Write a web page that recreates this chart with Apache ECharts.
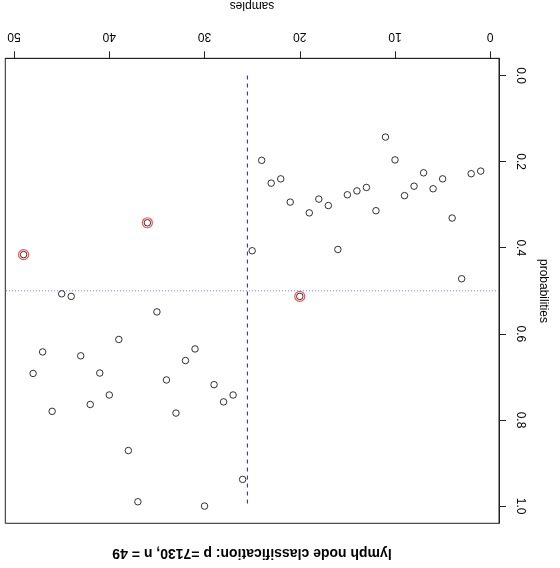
<!DOCTYPE html>
<html>
<head>
<meta charset="utf-8">
<script src="https://cdn.jsdelivr.net/npm/echarts@6/dist/echarts.min.js"></script>
<style>
html,body{margin:0;padding:0;background:#fff;}
#chart{width:560px;height:568px;}
</style>
</head>
<body>
<div id="chart"></div>
<script>
// ---- data ----
const samples = [1,2,3,4,5,6,7,8,9,10,11,12,13,14,15,16,17,18,19,20,21,22,23,24,25,26,27,28,29,30,31,32,33,34,35,36,37,38,39,40,41,42,43,44,45,46,47,48,49];
const probabilities = [0.222,0.228,0.472,0.331,0.240,0.263,0.226,0.257,0.279,0.196,
  0.143,0.314,0.260,0.268,0.277,0.404,0.302,0.287,0.319,0.513,
  0.294,0.240,0.250,0.197,0.407,0.938,0.742,0.758,0.718,1.000,
  0.635,0.662,0.784,0.707,0.549,0.342,0.990,0.871,0.613,0.742,
  0.691,0.764,0.651,0.513,0.507,0.780,0.642,0.692,0.416];
const misclassified = [20,36,49];
const cutoff = 0.5;
const classSplit = 25.5;
const xRange = [-0.92, 50.92];
const yRange = [-0.04, 1.04];
const xTicks = [0,10,20,30,40,50];
const yTicks = [0,0.2,0.4,0.6,0.8,1.0];
const titleText = 'lymph node classification: p =7130, n = 49';
const xName = 'samples';
const yName = 'probabilities';

const pts = samples.map((s,i)=>[s, probabilities[i]]);
const redPts = misclassified.map(s=>[s, probabilities[s-1]]);
const cutoffLine = [[xRange[0], cutoff], [xRange[1], cutoff]];
const splitLine = [[classSplit, 0], [classSplit, 1]];

const font = 'Liberation Sans, Arial, Helvetica, sans-serif';
const chart = echarts.init(document.getElementById('chart'), null, {renderer:'canvas'});
chart.setOption({
  backgroundColor:'#ffffff',
  animation:false,
  grid:{left:5.3, right:61, top:58.3, bottom:44.7, show:true, borderColor:'#222', borderWidth:1, backgroundColor:'transparent'},
  xAxis:{
    type:'value', position:'top', inverse:true, min:xRange[0], max:xRange[1],
    splitLine:{show:false},
    axisLine:{show:true, onZero:false, lineStyle:{color:'#222', width:1}},
    axisTick:{show:true, inside:false, length:7, customValues:xTicks, lineStyle:{color:'#222'}},
    axisLabel:{show:true, customValues:xTicks, rotate:180, margin:16, fontSize:12, color:'#000', fontFamily:font}
  },
  yAxis:{
    type:'value', position:'right', inverse:true, min:yRange[0], max:yRange[1],
    splitLine:{show:false},
    axisLine:{show:true, onZero:false, lineStyle:{color:'#222', width:1}},
    axisTick:{show:true, inside:false, length:7, customValues:yTicks, lineStyle:{color:'#222'}},
    axisLabel:{show:true, customValues:yTicks, rotate:-90, margin:15, fontSize:12, color:'#000', fontFamily:font,
      formatter:v=>Number(v).toFixed(1)}
  },
  series:[
    {
      type:'line', data:cutoffLine, symbol:'none', silent:true, z:1,
      lineStyle:{color:'#7b7bff', type:[1,2], width:1}, itemStyle:{color:'#7b7bff'}
    },
    {
      type:'line', data:splitLine, symbol:'none', silent:true, z:1,
      lineStyle:{color:'#1a1aff', type:[4,4], width:1}, itemStyle:{color:'#1a1aff'}
    },
    {
      type:'scatter', data:pts, symbol:'circle', symbolSize:6.5,
      itemStyle:{color:'rgba(255,255,255,0)', borderColor:'#000', borderWidth:1},
      z:3
    },
    {
      type:'scatter', data:redPts, symbol:'circle', symbolSize:10,
      itemStyle:{color:'rgba(255,255,255,0)', borderColor:'#ff2020', borderWidth:1.2},
      z:4
    }
  ],
  graphic:[
    {type:'text', x:252, y:553, rotation:Math.PI, style:{text:titleText, font:'bold 14px '+font, fill:'#000', align:'center', verticalAlign:'middle'}},
    {type:'text', x:252, y:5, rotation:Math.PI, style:{text:xName, font:'12px '+font, fill:'#000', align:'center', verticalAlign:'middle'}},
    {type:'text', x:543, y:291, rotation:-Math.PI/2, style:{text:yName, font:'12px '+font, fill:'#000', align:'center', verticalAlign:'middle'}}
  ]
});
</script>
</body>
</html>
